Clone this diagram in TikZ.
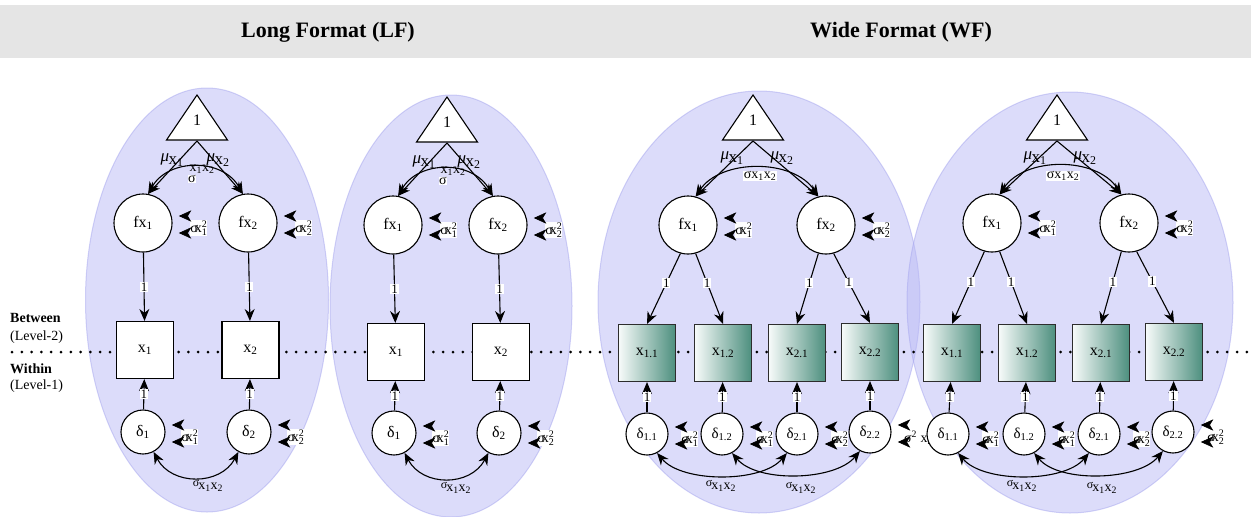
\documentclass[tikz,border=0pt]{standalone}
\usepackage{fontspec}
\setmainfont{Liberation Serif}
\usetikzlibrary{arrows.meta,calc}

\definecolor{hdrgray}{RGB}{229,229,229}
\definecolor{clus}{RGB}{186,186,245}
\definecolor{clusedge}{RGB}{165,165,238}
\definecolor{tealL}{RGB}{247,251,250}
\definecolor{tealR}{RGB}{76,143,126}
\definecolor{boxedge}{RGB}{45,45,45}

\tikzset{
  cluster/.style={fill=clus, fill opacity=0.5, draw=clusedge, draw opacity=0.5, line width=1pt},
  latent/.style={circle, draw, fill=white, line width=1.1pt, minimum size=58pt, inner sep=0pt, font=\fontsize{16}{16}\selectfont},
  resid/.style={circle, draw, fill=white, line width=1.1pt, minimum size=44pt, inner sep=0pt, font=\fontsize{16}{16}\selectfont},
  residw/.style={resid, minimum size=42pt, font=\fontsize{15}{15}\selectfont},
  manifest/.style={rectangle, draw, fill=white, line width=1.1pt, minimum size=57pt, inner sep=0pt, font=\fontsize{16}{16}\selectfont},
  manifestw/.style={manifest, draw=boxedge, left color=tealL, right color=tealR},
  tri/.style={draw, fill=white, line width=1.1pt, line join=miter},
  trilab/.style={inner sep=0pt, font=\fontsize{16}{16}\selectfont},
  arr/.style={line width=1.1pt, -{Stealth[length=12pt,width=10pt]}},
  biarr/.style={line width=1.1pt, {Stealth[length=12pt,width=10pt]}-{Stealth[length=12pt,width=10pt]}},
  vhead/.style={draw=black, fill=black, line width=0.6pt, line join=miter},
  one/.style={fill=white, inner sep=0.8pt, font=\fontsize{13}{13}\selectfont},
  meanl/.style={inner sep=0pt, font=\fontsize{17}{17}\selectfont},
  covl/.style={fill=white, inner sep=0.6pt, font=\fontsize{14}{14}\selectfont},
  covb/.style={inner sep=0.6pt, font=\fontsize{14}{14}\selectfont},
  varlab/.style={fill=white, inner sep=0.4pt, font=\fontsize{14}{14}\selectfont},
  title/.style={inner sep=0pt, font=\fontsize{22}{22}\selectfont\bfseries},
  lvl/.style={anchor=west, inner sep=0pt, font=\fontsize{14}{14}\selectfont},
  dotline/.style={line width=3pt, line cap=round, dash pattern=on 0pt off 9.8pt},
}

% symbols used in the labels
\newcommand\subx[1]{x\textsubscript{#1}}
\newcommand\varx[1]{σ\kern-3pt x\rlap{\raisebox{0.75ex}{\fontsize{10}{10}\selectfont 2}}\raisebox{-0.45ex}{\fontsize{10}{10}\selectfont #1}}
\newcommand\meanlab[1]{\textit{μ}\kern-0.5pt\raisebox{-0.4ex}{x\textsubscript{#1}}}
\newcommand\covtop{σx\textsubscript{1}x\textsubscript{2}}
\newcommand\covbot{\raisebox{0.45ex}{\fontsize{12}{12}\selectfont σ}\kern-1pt x\textsubscript{1}x\textsubscript{2}}

% constant (mean) triangle: #1 name of the base point, #2 x, #3 y of apex
\newcommand\meantri[3]{%
  \draw[tri] (#2,#3) -- ++(30.5,45) -- ++(-61,0) -- cycle;
  \node[trilab] (#1-one) at (#2,#3+25) {1};
  \coordinate (#1) at (#2,#3+46);}

% one filled left-pointing head with its tip at #1
\newcommand\headat[1]{\filldraw[vhead] #1 -- ++(11,-5) -- ++(-3,5) -- ++(3,5) -- cycle;}

% variance marks beside a node: #1 node, #2 label, #3 label name, #4 label offset
\newcommand\vartips[4]{%
  \node[varlab] (#3) at ([shift={(#4,5)}]#1.east) {#2};
  \headat{([shift={(7,-7)}]#1.east)}
  \headat{([shift={(7,10)}]#1.east)}}

\begin{document}
\begin{tikzpicture}[x=1pt, y=-1pt]
\useasboundingbox (0,0) rectangle (1251,517);

% header band
\fill[hdrgray] (0,5) rectangle (1251,58);
\node[title] (tLF) at (328,32) {Long Format (LF)};
\node[title] (tWF) at (901,32) {Wide Format (WF)};

% clusters
\path[cluster] (207,300) ellipse [x radius=121.5, y radius=212];
\path[cluster] (451,306) ellipse [x radius=121, y radius=211];
\path[cluster] (759,302) ellipse [x radius=161, y radius=211];
\path[cluster] (1070,302.5) ellipse [x radius=163, y radius=210.5];

% level divider
\draw[dotline] (12,352) -- (1251,352);
\node[lvl] (lvB) at (10,318) {\textbf{Between}};
\node[lvl] (lvB2) at (10,337) {(Level-2)};
\node[lvl] (lvW) at (10,369) {\textbf{Within}};
\node[lvl] (lvW2) at (10,386) {(Level-1)};

%% ---------- Long format, first cluster ----------
\meantri{aT}{197}{95}
\node[latent] (aF1) at (143,223) {f\subx{1}};
\node[latent] (aF2) at (248,223) {f\subx{2}};
\node[manifest] (aX1) at (145,350) {\subx{1}};
\node[manifest] (aX2) at (250.5,350) {\subx{2}};
\node[resid] (aD1) at (143,432) {δ\textsubscript{1}};
\node[resid] (aD2) at (249,432) {δ\textsubscript{2}};
\draw[arr] (aT) -- (aF1.80);
\draw[arr] (aT) -- (aF2.100);
\draw[biarr] (aF1.80) .. controls +(20,-36) and +(-20,-36) .. (aF2.100);
\node[meanl] (aM1) at (172,160) {\meanlab{1}};
\node[meanl] (aM2) at (218,160) {\meanlab{2}};
\node[covb] (aC) at (202,169) {x\textsubscript{1}x\textsubscript{2}};
\node[covl] (aCs) at (192,179) {σ};
\draw[arr] (aF1) -- node[one] {1} (aX1);
\draw[arr] (aF2) -- node[one] {1} (aX2);
\draw[arr] (aD1) -- node[one] {1} (aX1);
\draw[arr] (aD2) -- node[one] {1} (aX2);
\draw[biarr] (aD1.-62) .. controls +(18,34) and +(-18,34) .. (aD2.-118);
\node[covb] (aCb) at (208,486) {\covbot};
\vartips{aF1}{\varx{1}}{aV1}{26}
\vartips{aF2}{\varx{2}}{aV2}{26}
\vartips{aD1}{\varx{1}}{aW1}{24}
\vartips{aD2}{\varx{2}}{aW2}{24}

%% ---------- Long format, second cluster ----------
\meantri{bT}{447}{97}
\node[latent] (bF1) at (393,225) {f\subx{1}};
\node[latent] (bF2) at (498,225) {f\subx{2}};
\node[manifest] (bX1) at (396,352) {\subx{1}};
\node[manifest] (bX2) at (501,352) {\subx{2}};
\node[resid] (bD1) at (394,433) {δ\textsubscript{1}};
\node[resid] (bD2) at (499,433) {δ\textsubscript{2}};
\draw[arr] (bT) -- (bF1.80);
\draw[arr] (bT) -- (bF2.100);
\draw[biarr] (bF1.80) .. controls +(20,-36) and +(-20,-36) .. (bF2.100);
\node[meanl] (bM1) at (424,162) {\meanlab{1}};
\node[meanl] (bM2) at (469,162) {\meanlab{2}};
\node[covb] (bC) at (453,171) {x\textsubscript{1}x\textsubscript{2}};
\node[covl] (bCs) at (443,181) {σ};
\draw[arr] (bF1) -- node[one] {1} (bX1);
\draw[arr] (bF2) -- node[one] {1} (bX2);
\draw[arr] (bD1) -- node[one] {1} (bX1);
\draw[arr] (bD2) -- node[one] {1} (bX2);
\draw[biarr] (bD1.-62) .. controls +(18,34) and +(-18,34) .. (bD2.-118);
\node[covb] (bCb) at (456,488) {\covbot};
\vartips{bF1}{\varx{1}}{bV1}{26}
\vartips{bF2}{\varx{2}}{bV2}{26}
\vartips{bD1}{\varx{1}}{bW1}{24}
\vartips{bD2}{\varx{2}}{bW2}{24}

%% ---------- Wide format, first cluster ----------
\meantri{cT}{753}{95}
\node[latent] (cF1) at (688,225) {f\subx{1}};
\node[latent] (cF2) at (826,225) {f\subx{2}};
\node[manifestw] (cX11) at (647,353) {\subx{1.1}};
\node[manifestw] (cX12) at (723,353) {\subx{1.2}};
\node[manifestw] (cX21) at (797,353) {\subx{2.1}};
\node[manifestw] (cX22) at (870,352) {\subx{2.2}};
\node[residw] (cD11) at (647,434) {δ\textsubscript{1.1}};
\node[residw] (cD12) at (722,434) {δ\textsubscript{1.2}};
\node[residw] (cD21) at (797,434) {δ\textsubscript{2.1}};
\node[residw] (cD22) at (870,432) {δ\textsubscript{2.2}};
\draw[arr] (cT) -- (cF1.75);
\draw[arr] (cT) -- (cF2.105);
\draw[biarr] (cF1.75) .. controls +(25,-38) and +(-25,-38) .. (cF2.105);
\node[meanl] (cM1) at (732,158) {\meanlab{1}};
\node[meanl] (cM2) at (782,158) {\meanlab{2}};
\node[covl] (cC) at (760,176) {\covtop};
\draw[arr] (cF1.-105) -- node[one, pos=0.42] {1} (cX11.north);
\draw[arr] (cF1.-75) -- node[one, pos=0.42] {1} (cX12.north);
\draw[arr] (cF2.-105) -- node[one, pos=0.42] {1} (cX21.north);
\draw[arr] (cF2.-75) -- node[one, pos=0.42] {1} (cX22.north);
\draw[arr] (cD11) -- node[one] {1} (cX11);
\draw[arr] (cD12) -- node[one] {1} (cX12);
\draw[arr] (cD21) -- node[one] {1} (cX21);
\draw[arr] (cD22) -- node[one] {1} (cX22);
\draw[biarr] (cD11.-62) .. controls +(25,30) and +(-25,30) .. (cD21.-118);
\draw[biarr] (cD12.-62) .. controls +(25,30) and +(-25,30) .. (cD22.-118);
\node[covb] (cCb1) at (721,486) {\covbot};
\node[covb] (cCb2) at (801,488) {\covbot};
\vartips{cF1}{\varx{1}}{cV1}{26}
\vartips{cF2}{\varx{2}}{cV2}{26}
\vartips{cD11}{\varx{1}}{cW11}{21}
\vartips{cD12}{\varx{1}}{cW12}{21}
\vartips{cD21}{\varx{2}}{cW21}{21}
\node[varlab] (cW22) at ([shift={(27,6)}]cD22.east) {σ\textsuperscript{2} x\textsubscript{2}};
\headat{([shift={(7,-7)}]cD22.east)}
\headat{([shift={(7,10)}]cD22.east)}

%% ---------- Wide format, second cluster ----------
\meantri{dT}{1057}{95}
\node[latent] (dF1) at (992,223) {f\subx{1}};
\node[latent] (dF2) at (1129,223) {f\subx{2}};
\node[manifestw] (dX11) at (952,353) {\subx{1.1}};
\node[manifestw] (dX12) at (1027,353) {\subx{1.2}};
\node[manifestw] (dX21) at (1101,353) {\subx{2.1}};
\node[manifestw] (dX22) at (1174,352) {\subx{2.2}};
\node[residw] (dD11) at (948,434) {δ\textsubscript{1.1}};
\node[residw] (dD12) at (1024,434) {δ\textsubscript{1.2}};
\node[residw] (dD21) at (1099,434) {δ\textsubscript{2.1}};
\node[residw] (dD22) at (1173,432) {δ\textsubscript{2.2}};
\draw[arr] (dT) -- (dF1.75);
\draw[arr] (dT) -- (dF2.105);
\draw[biarr] (dF1.75) .. controls +(25,-38) and +(-25,-38) .. (dF2.105);
\node[meanl] (dM1) at (1035,158) {\meanlab{1}};
\node[meanl] (dM2) at (1085,158) {\meanlab{2}};
\node[covl] (dC) at (1063,176) {\covtop};
\draw[arr] (dF1.-105) -- node[one, pos=0.42] {1} (dX11.north);
\draw[arr] (dF1.-75) -- node[one, pos=0.42] {1} (dX12.north);
\draw[arr] (dF2.-105) -- node[one, pos=0.42] {1} (dX21.north);
\draw[arr] (dF2.-75) -- node[one, pos=0.42] {1} (dX22.north);
\draw[arr] (dD11) -- node[one] {1} (dX11);
\draw[arr] (dD12) -- node[one] {1} (dX12);
\draw[arr] (dD21) -- node[one] {1} (dX21);
\draw[arr] (dD22) -- node[one] {1} (dX22);
\draw[biarr] (dD11.-62) .. controls +(25,30) and +(-25,30) .. (dD21.-118);
\draw[biarr] (dD12.-62) .. controls +(25,30) and +(-25,30) .. (dD22.-118);
\node[covb] (dCb1) at (1022,486) {\covbot};
\node[covb] (dCb2) at (1102,488) {\covbot};
\vartips{dF1}{\varx{1}}{dV1}{26}
\vartips{dF2}{\varx{2}}{dV2}{26}
\vartips{dD11}{\varx{1}}{dW11}{21}
\vartips{dD12}{\varx{1}}{dW12}{21}
\vartips{dD21}{\varx{2}}{dW21}{21}
\vartips{dD22}{\varx{2}}{dW22}{21}
\end{tikzpicture}
\end{document}
